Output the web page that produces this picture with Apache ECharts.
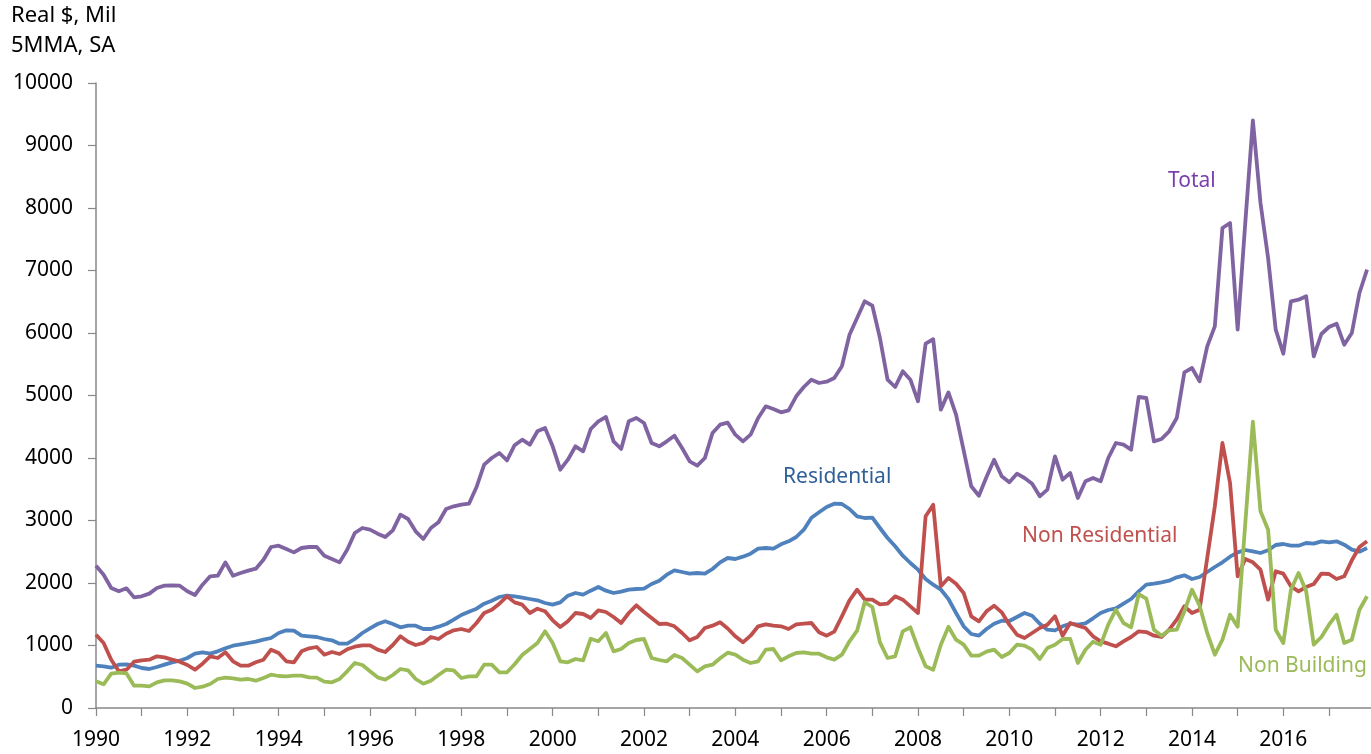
<!DOCTYPE html>
<html>
<head>
<meta charset="utf-8">
<script src="https://cdn.jsdelivr.net/npm/echarts@6/dist/echarts.min.js"></script>
<style>
html,body{margin:0;padding:0;background:#fff;}
#chart{width:1371px;height:754px;}
</style>
</head>
<body>
<div id="chart"></div>
<script>
// bimonthly readings, Jan 1990 .. Nov 2017 (Real $, Mil, 5MMA, SA)
var startYear = 1990;
var stepsPerYear = 6;

var total = [2277,2133,1920,1867,1915,1770,1787,1830,1920,1957,1963,1957,1867,1808,1973,2107,2117,2330,2117,2160,2197,2229,2373,2576,2597,2544,2490,2560,2576,
  2576,2437,2384,2330,2533,2800,2880,2853,2789,2736,2843,3093,3024,2827,2704,2880,2971,3184,3227,3253,3269,3536,3893,4000,4080,3962,4205,
  4293,4213,4427,4480,4187,3813,3973,4187,4107,4464,4587,4656,4267,4144,4587,4640,4560,4240,4187,4267,4357,4160,3947,3877,4000,4400,4533,4565,
  4373,4267,4373,4640,4827,4784,4731,4763,4987,5136,5253,5200,5221,5280,5467,5973,6240,6507,6437,5920,5253,5136,5387,5253,4907,5829,5900,4773,
  5050,4693,4123,3547,3397,3696,3973,3707,3611,3749,3680,3589,3387,3493,4027,3653,3760,3360,3627,3680,3627,4000,4240,4213,4133,4976,4960,
  4267,4304,4427,4640,5371,5440,5227,5787,6107,7680,7760,6053,7760,9400,8080,7200,6053,5669,6507,6533,6587,5627,5984,6096,6149,5813,6000,6640,7013];

var residential = [677,667,645,693,699,677,640,624,656,693,731,757,800,869,891,869,907,955,997,1019,1040,1061,1093,1120,1200,1243,1237,1157,1147,
  1136,1104,1083,1029,1029,1104,1200,1275,1344,1387,1344,1291,1317,1317,1264,1264,1301,1344,1413,1488,1541,1589,1669,1717,1776,1797,1787,
  1765,1744,1723,1680,1653,1691,1797,1840,1813,1877,1936,1877,1840,1861,1893,1904,1909,1984,2037,2133,2203,2176,2149,2160,2149,2224,2331,2400,
  2384,2421,2469,2549,2560,2549,2619,2667,2736,2853,3045,3131,3216,3269,3264,3184,3067,3040,3045,2880,2720,2587,2437,2320,2213,2064,1973,1895,
  1744,1520,1307,1184,1157,1264,1349,1397,1392,1456,1520,1477,1349,1253,1243,1307,1349,1333,1355,1435,1520,1568,1595,1669,1744,1867,1975,
  1989,2011,2037,2091,2123,2064,2096,2176,2256,2331,2421,2491,2528,2507,2480,2523,2608,2624,2597,2597,2640,2629,2667,2651,2667,2613,2533,2501,2560];

var nonResidential = [1173,1040,773,587,613,741,763,773,827,811,773,741,688,613,709,827,800,891,747,677,677,731,773,933,880,747,731,907,955,
  976,853,896,864,939,981,1003,1003,933,896,1008,1147,1061,1008,1040,1136,1104,1189,1243,1264,1232,1360,1520,1573,1669,1787,1690,
  1653,1520,1589,1547,1403,1296,1387,1520,1504,1440,1563,1536,1456,1360,1520,1643,1536,1440,1344,1349,1307,1200,1083,1136,1280,1317,1371,1272,
  1147,1051,1157,1307,1339,1317,1307,1264,1339,1349,1360,1211,1157,1221,1467,1723,1893,1733,1733,1659,1669,1787,1733,1627,1520,3067,3250,1947,
  2080,1989,1840,1467,1387,1547,1637,1531,1333,1173,1120,1200,1280,1333,1467,1157,1360,1317,1280,1147,1067,1029,987,1067,1136,1227,1215,
  1157,1136,1253,1413,1627,1520,1573,2400,3227,4240,3600,2107,2384,2331,2213,1733,2187,2149,1947,1867,1936,1984,2149,2144,2064,2107,2363,2576,2667];

var nonBuilding = [427,379,549,565,555,357,357,347,411,443,443,427,389,320,341,384,464,485,475,453,464,437,480,533,512,507,517,517,490,
  485,421,411,464,587,720,688,587,491,453,528,624,603,464,389,437,528,613,603,480,507,507,693,693,571,571,700,
  848,944,1040,1227,1040,747,731,784,763,1109,1067,1200,907,944,1040,1088,1104,800,768,747,848,800,693,587,667,693,795,885,
  853,773,720,747,933,944,763,827,880,891,869,869,811,773,853,1067,1237,1691,1616,1051,800,827,1227,1291,960,667,613,1013,
  1300,1093,1013,837,837,901,933,816,880,1013,997,933,784,960,1013,1104,1104,720,933,1061,1013,1333,1573,1360,1291,1820,1750,
  1253,1157,1243,1253,1547,1893,1637,1200,853,1093,1493,1300,2949,4580,3147,2853,1253,1040,1893,2160,1867,1013,1136,1333,1493,1040,1093,1573,1787];

var yTicks = [0,1000,2000,3000,4000,5000,6000,7000,8000,9000,10000];

var FONT = 'Noto Sans';

function toPairs(arr) {
	var out = [];
	for (var i = 0; i < arr.length; i++) {
		out.push([startYear + i / stepsPerYear, arr[i]]);
	}
	return out;
}

function lineSeries(name, arr, color) {
	return {
		name: name,
		type: 'line',
		data: toPairs(arr),
		showSymbol: false,
		symbol: 'none',
		smooth: false,
		lineStyle: { color: color, width: 3.8, join: 'round' },
		animation: false
	};
}

var chart = echarts.init(document.getElementById('chart'));

var option = {
	backgroundColor: '#ffffff',
	animation: false,
	grid: { left: 96, right: 0, top: 83, bottom: 46, containLabel: false },
	xAxis: {
		type: 'value',
		min: 1990,
		max: 2017.92,
		interval: 1,
		axisLine: { show: true, onZero: false, lineStyle: { color: '#888888', width: 1.5 } },
		axisTick: { show: true, inside: false, length: 8, lineStyle: { color: '#888888', width: 1.2 } },
		splitLine: { show: false },
		axisLabel: {
			color: '#000000',
			fontFamily: FONT,
			fontSize: 21,
			margin: 22,
			showMaxLabel: false,
			formatter: function (v) {
				var r = Math.round(v);
				if (Math.abs(v - r) > 0.001 || r % 2 !== 0) return '';
				return String(r);
			}
		}
	},
	yAxis: {
		type: 'value',
		min: yTicks[0],
		max: yTicks[yTicks.length - 1],
		interval: 1000,
		axisLine: { show: true, lineStyle: { color: '#888888', width: 1.5 } },
		axisTick: { show: true, inside: false, length: 8, lineStyle: { color: '#888888', width: 1.2 } },
		splitLine: { show: false },
		axisLabel: {
			color: '#000000', fontFamily: FONT, fontSize: 21, margin: 23,
			formatter: function (v) { return String(v); }
		}
	},
	series: [
		lineSeries('Total', total, '#8064A2'),
		lineSeries('Residential', residential, '#4F81BD'),
		lineSeries('Non Residential', nonResidential, '#C0504D'),
		lineSeries('Non Building', nonBuilding, '#9BBB59')
	],
	graphic: [
		{ type: 'text', left: 11, top: 5, style: { text: 'Real $, Mil', fill: '#000', font: '22px "Noto Sans"' } },
		{ type: 'text', left: 11, top: 35, style: { text: '5MMA, SA', fill: '#000', font: '22px "Noto Sans"' } },
		{ type: 'text', left: 1168, top: 171, style: { text: 'Total', fill: '#7A3FAE', font: '21px "Noto Sans"' } },
		{ type: 'text', left: 783, top: 467, style: { text: 'Residential', fill: '#2F5F98', font: '21px "Noto Sans"' } },
		{ type: 'text', left: 1022, top: 526, style: { text: 'Non Residential', fill: '#C0504D', font: '21px "Noto Sans"' } },
		{ type: 'text', left: 1238, top: 656, style: { text: 'Non Building', fill: '#9BBB59', font: '21px "Noto Sans"' } }
	]
};

chart.setOption(option);
</script>
</body>
</html>
